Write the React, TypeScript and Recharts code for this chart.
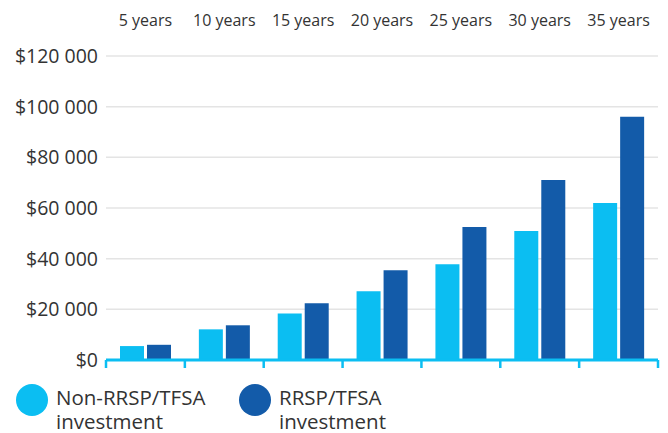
import React from "react";
import {
  BarChart,
  Bar,
  XAxis,
  YAxis,
  CartesianGrid,
  Legend,
} from "recharts";

const categories = ["5 years", "10 years", "15 years", "20 years", "25 years", "30 years", "35 years"];
const nonRegistered = [5500, 12100, 18400, 27100, 37800, 50900, 62000];
const registered = [6000, 13700, 22400, 35400, 52500, 71100, 96000];
const yTicks = [0, 20000, 40000, 60000, 80000, 100000, 120000];
const edgeTicks = [0, 1, 2, 3, 4, 5, 6, 7];

const LIGHT = "#0bbef2";
const DARK = "#135ba9";
const FONT = "'Open Sans', sans-serif";

const data = categories.map((year, i) => ({
  year,
  pos: i + 0.5,
  nonReg: nonRegistered[i],
  reg: registered[i],
}));

const money = (v: number) => "$" + String(v).replace(/\B(?=(\d{3})+(?!\d))/g, " ");

const legendItems = [
  { color: LIGHT, lines: ["Non-RRSP/TFSA", "investment"], x: 16 },
  { color: DARK, lines: ["RRSP/TFSA", "investment"], x: 239 },
];

function ChartLegend() {
  return (
    <div style={{ position: "relative", width: 668, height: 63, fontFamily: FONT }}>
      {legendItems.map((it) => (
        <div key={it.lines[0]}>
          <div
            style={{
              position: "absolute",
              left: it.x,
              top: 14,
              width: 32,
              height: 32,
              borderRadius: "50%",
              background: it.color,
            }}
          />
          <div
            style={{
              position: "absolute",
              left: it.x + 40,
              top: 15,
              fontSize: 20.5,
              lineHeight: "24px",
              color: "#333",
              whiteSpace: "nowrap",
            }}
          >
            {it.lines[0]}
            <br />
            {it.lines[1]}
          </div>
        </div>
      ))}
    </div>
  );
}

// empty tick so only the tick lines of the boundary axis show
const NoLabel = () => <g />;

export default function App() {
  return (
    <div style={{ position: "absolute", left: 0, top: 0, background: "#fff" }}>
      <BarChart
        width={668}
        height={433}
        data={data}
        margin={{ top: 0, right: 10, bottom: 0, left: 0 }}
        barSize={24}
        barGap={3}
      >
        <CartesianGrid vertical={false} stroke="#e4e4e4" strokeWidth={1.5} />
        <XAxis
          xAxisId="cat"
          dataKey="year"
          orientation="top"
          axisLine={false}
          tickLine={false}
          height={56}
          tickMargin={24}
          tick={{ fill: "#333", fontSize: 16, fontFamily: FONT }}
          interval={0}
        />
        <XAxis
          xAxisId="edge"
          type="number"
          dataKey="pos"
          domain={[0, 7]}
          ticks={edgeTicks}
          interval={0}
          orientation="bottom"
          height={10}
          tick={NoLabel}
          tickSize={8}
          axisLine={{ stroke: LIGHT, strokeWidth: 3 }}
          tickLine={{ stroke: LIGHT, strokeWidth: 2.5 }}
        />
        <YAxis
          domain={[0, 120000]}
          ticks={yTicks}
          tickFormatter={money}
          axisLine={false}
          tickLine={false}
          width={106}
          tick={{ fill: "#333", fontSize: 19.5, fontFamily: FONT }}
        />
        <Legend verticalAlign="bottom" content={() => <ChartLegend />} />
        <Bar xAxisId="cat" dataKey="nonReg" fill={LIGHT} isAnimationActive={false} />
        <Bar xAxisId="cat" dataKey="reg" fill={DARK} isAnimationActive={false} />
      </BarChart>
    </div>
  );
}
